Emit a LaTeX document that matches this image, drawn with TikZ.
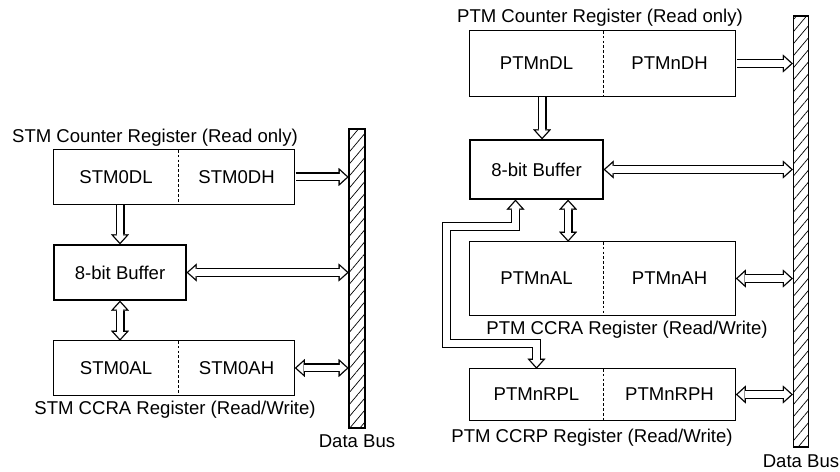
\documentclass[tikz,border=0pt]{standalone}
\usepackage{fontspec}
\setmainfont{Liberation Sans}
\usetikzlibrary{arrows.meta,positioning,patterns.meta}

\tikzset{
    outtip/.tip={Triangle[length=0.25cm 0 0, width=0.45cm 0 0, line width=0.1pt 0 0]},
    intip/.tip={Triangle[length=0.169cm 0 0, width=0.304cm 0 0, line width=0.1pt 0 0]},
    oneway/.style={line width=0.225cm, -outtip, shorten <=0.5pt,
        postaction={draw=white, line width=0.16cm, shorten <=0.5pt, shorten >=0.0486cm, -intip}},
    twoway/.style={line width=0.225cm, line join=miter, outtip-outtip,
        postaction={draw=white, line width=0.16cm, line join=miter, shorten <=0.0486cm, shorten >=0.0486cm, intip-intip}},
    half/.style={inner sep=0pt},
    regbox/.style={line width=0.9pt},
    divider/.style={line width=0.6pt, dash pattern=on 2pt off 1.5pt},
    buffer/.style={draw, line width=0.9pt, inner sep=0pt},
    databus/.style={draw, line width=0.9pt, inner sep=0pt, pattern={Lines[angle=50,distance=5.5pt,line width=0.5pt]}},
    lbl/.style={anchor=base, inner sep=0pt},
}

\begin{document}
\begin{tikzpicture}[font=\fontsize{13.2}{16}\selectfont]
    \useasboundingbox (0,0) rectangle (21,11.8);

    % STM side
    \node[half, minimum width=3.1cm, minimum height=1.35cm] (dl) at (2.9,7.375) {STM0DL};
    \node[half, minimum width=2.9cm, minimum height=1.35cm, right=0pt of dl] (dh) {STM0DH};
    \draw[regbox] (dl.north west) rectangle (dh.south east);
    \draw[divider] (dl.north east) -- (dl.south east);

    \node[buffer, minimum width=3.3cm, minimum height=1.375cm] (buf) at (3.0,4.9875) {8-bit Buffer};

    \node[half, minimum width=3.1cm, minimum height=1.35cm] (al) at (2.9,2.6) {STM0AL};
    \node[half, minimum width=2.9cm, minimum height=1.35cm, right=0pt of al] (ah) {STM0AH};
    \draw[regbox] (al.north west) rectangle (ah.south east);
    \draw[divider] (al.north east) -- (al.south east);

    \node[databus, minimum width=0.4cm, minimum height=7.475cm] (lbus) at (8.925,4.8375) {};

    \node[lbl] (lcnt) at (3.875,8.225) {STM Counter Register (Read only)};
    \node[lbl] (lccra) at (4.375,1.425) {STM CCRA Register (Read/Write)};
    \node[lbl] (lbusname) at (8.925,0.6) {Data Bus};

    \draw[oneway] (dh.east) -- (dh.east -| lbus.west);
    \draw[twoway] (buf.east) -- (buf.east -| lbus.west);
    \draw[twoway] (ah.east) -- (ah.east -| lbus.west);
    \draw[oneway] (buf.north |- dl.south) -- (buf.north);
    \draw[twoway] (buf.south) -- (buf.south |- al.north);

    % PTM side
    \node[half, minimum width=3.325cm, minimum height=1.625cm] (pdl) at (13.4125,10.2125) {PTMnDL};
    \node[half, minimum width=3.3cm, minimum height=1.625cm, right=0pt of pdl] (pdh) {PTMnDH};
    \draw[regbox] (pdl.north west) rectangle (pdh.south east);
    \draw[divider] (pdl.north east) -- (pdl.south east);

    \node[buffer, minimum width=3.325cm, minimum height=1.475cm] (pbuf) at (13.4125,7.5625) {8-bit Buffer};

    \node[half, minimum width=3.325cm, minimum height=1.825cm] (pal) at (13.4125,4.8375) {PTMnAL};
    \node[half, minimum width=3.3cm, minimum height=1.825cm, right=0pt of pal] (pah) {PTMnAH};
    \draw[regbox] (pal.north west) rectangle (pah.south east);
    \draw[divider] (pal.north east) -- (pal.south east);

    \node[half, minimum width=3.325cm, minimum height=1.275cm] (prpl) at (13.4125,1.9375) {PTMnRPL};
    \node[half, minimum width=3.3cm, minimum height=1.275cm, right=0pt of prpl] (prph) {PTMnRPH};
    \draw[regbox] (prpl.north west) rectangle (prph.south east);
    \draw[divider] (prpl.north east) -- (prpl.south east);

    \node[databus, minimum width=0.375cm, minimum height=10.775cm] (rbus) at (20.025,6.0125) {};

    \node[lbl] (pcnt) at (15.0,11.225) {PTM Counter Register (Read only)};
    \node[lbl] (pccra) at (15.675,3.425) {PTM CCRA Register (Read/Write)};
    \node[lbl] (pccrp) at (14.8,0.725) {PTM CCRP Register (Read/Write)};
    \node[lbl] (rbusname) at (20.025,0.1) {Data Bus};

    \draw[oneway] (pdh.east) -- (pdh.east -| rbus.west);
    \draw[twoway] (pbuf.east) -- (pbuf.east -| rbus.west);
    \draw[twoway] (pah.east) -- (pah.east -| rbus.west);
    \draw[twoway] (prph.east) -- (prph.east -| rbus.west);
    \draw[oneway] ([xshift=0.14cm]pdl.south) -- ([xshift=0.14cm]pbuf.north);
    \draw[twoway] ([xshift=0.79cm]pbuf.south) -- ([xshift=0.79cm]pal.north);

    % buffer to CCRP, routed round the left
    \coordinate (bend) at (11.16,3.21);
    \draw[twoway] ([xshift=-0.525cm]pbuf.south) -- ++(0,-0.675) -| (bend) -| (prpl.north);
\end{tikzpicture}
\end{document}
